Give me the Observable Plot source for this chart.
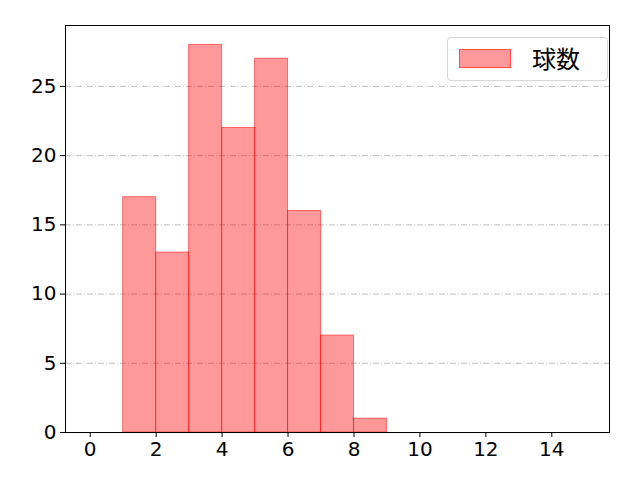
<!DOCTYPE html>
<html><head><meta charset="utf-8">
<script src="https://cdn.jsdelivr.net/npm/d3@7"></script>
<script src="https://cdn.jsdelivr.net/npm/@observablehq/plot@0.6"></script>
<style>
body{margin:0;background:#fff;}
#wrap{position:relative;width:640px;height:480px;}
#legend{position:absolute;left:447px;top:37px;width:161px;height:44px;box-sizing:border-box;border:1px solid #d6d6d6;border-radius:4px;background:rgba(255,255,255,0.8);font-family:"Noto Sans CJK JP",sans-serif;font-size:24px;line-height:1;}
#legend .sw{position:absolute;left:11px;top:11px;width:52px;height:19px;background:rgba(255,0,0,0.4);border:1px solid rgba(255,0,0,0.5);box-sizing:border-box;}
#legend .lb{position:absolute;left:84px;top:8px;color:#000;}
</style>
</head><body>
<div id="wrap"></div>
<script>
const binStarts = [1, 2, 3, 4, 5, 6, 7, 8];
const counts = [17, 13, 28, 22, 27, 16, 7, 1];
const seriesName = "球数";
const xTicks = [0, 2, 4, 6, 8, 10, 12, 14];
const yTicks = [0, 5, 10, 15, 20, 25];

const data = binStarts.map((s, i) => ({x1: s, x2: s + 1, y: counts[i]}));

const chart = Plot.plot({
  width: 640, height: 480,
  marginLeft: 65, marginRight: 31, marginTop: 25, marginBottom: 48,
  style: {fontFamily: "'DejaVu Sans', 'Noto Sans CJK JP', sans-serif", fontSize: "20px", color: "#000", background: "#fff"},
  x: {domain: [-0.75, 15.75], ticks: xTicks, tickSize: 5, tickPadding: 4, label: null},
  y: {domain: [0, 29.4], ticks: yTicks, tickSize: 5, tickPadding: 4, label: null},
  marks: [
    Plot.gridY(yTicks.filter(d => d > 0), {stroke: "#b0b0b0", strokeOpacity: 1, strokeWidth: 0.8, strokeDasharray: "6,2,1,2"}),
    Plot.rectY(data, {x1: "x1", x2: "x2", y: "y", fill: "red", fillOpacity: 0.4, stroke: "red", strokeOpacity: 0.5, strokeWidth: 1}),
    Plot.axisX({ticks: xTicks, tickSize: 5, tickPadding: 4}),
    Plot.axisY({ticks: yTicks, tickSize: 5, tickPadding: 4}),
    Plot.frame({stroke: "#000", strokeWidth: 1})
  ]
});
const wrap = document.getElementById("wrap");
wrap.appendChild(chart);
const lg = document.createElement("div");
lg.id = "legend";
lg.innerHTML = '<div class="sw"></div><div class="lb"></div>';
lg.querySelector(".lb").textContent = seriesName;
wrap.appendChild(lg);
</script>
</body></html>
